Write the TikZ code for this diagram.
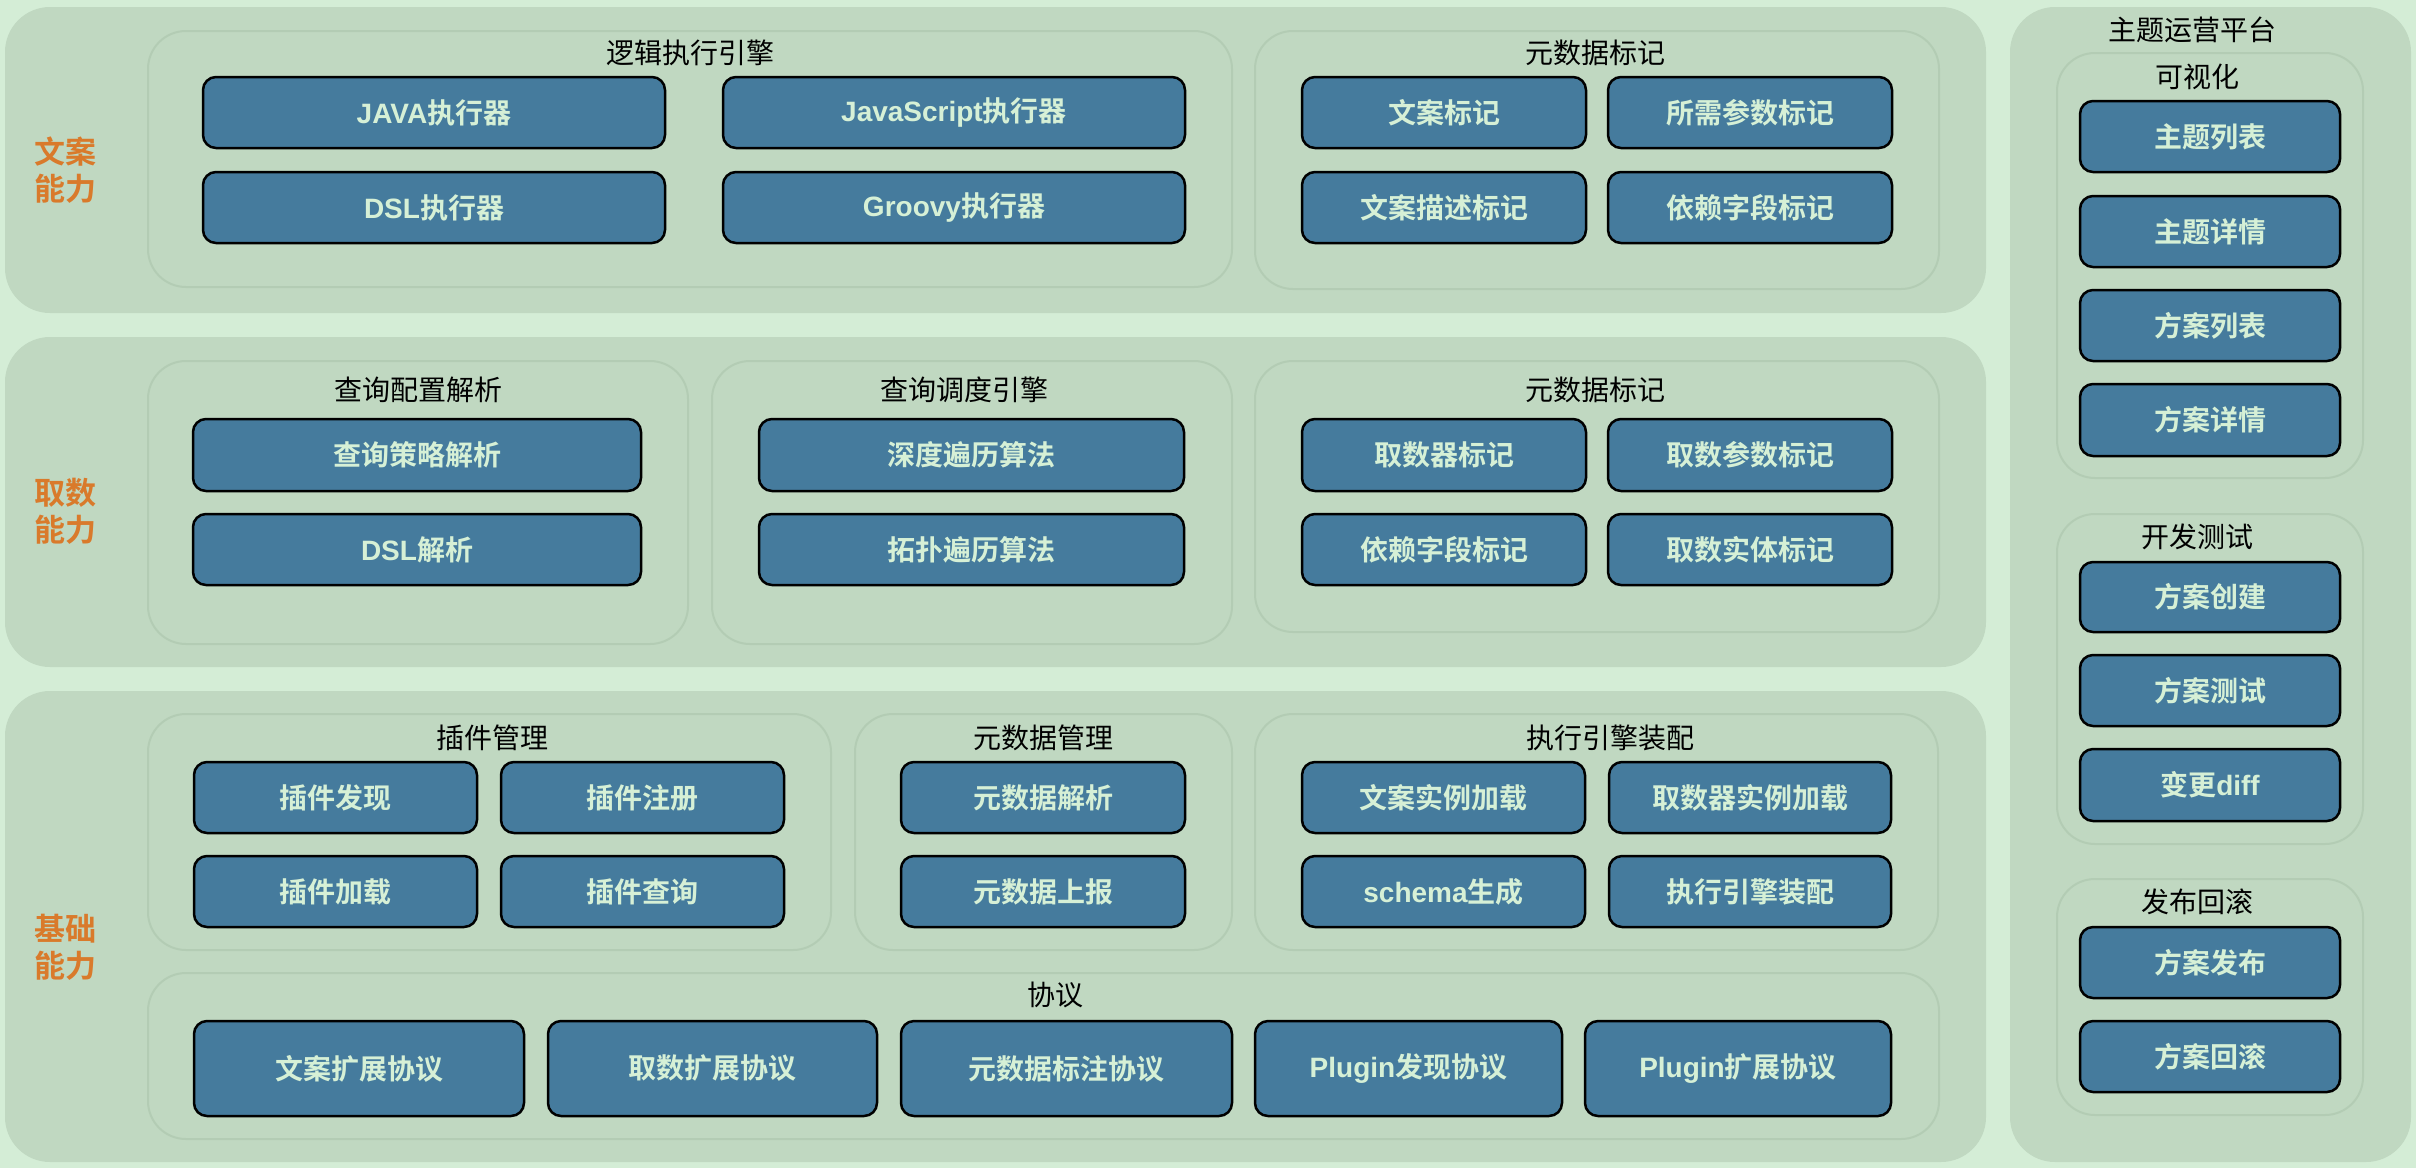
\documentclass[tikz,border=0pt]{standalone}
\usepackage{fontspec}
\setmainfont{Noto Sans CJK SC}[BoldFont=* Bold]
\newfontfamily\latinfont{Liberation Sans}
\definecolor{bgc}{HTML}{D4EDD6}
\definecolor{panelc}{HTML}{C0D8C1}
\definecolor{grpline}{HTML}{B3CCB4}
\definecolor{boxc}{HTML}{457B9D}
\definecolor{boxtxt}{HTML}{D6F0D6}
\definecolor{orangec}{HTML}{D97A2B}
\tikzset{
  panel/.style={fill=panelc, draw=none, rounded corners=45pt, inner sep=0pt},
  grp/.style={fill=panelc, draw=grpline, line width=2pt, rounded corners=38pt, inner sep=0pt},
  bluebox/.style={fill=boxc, draw=black, line width=2.5pt, rounded corners=13pt, inner sep=0pt,
    text=boxtxt, font=\fontsize{28}{32}\selectfont\bfseries},
  grptitle/.style={text=black, font=\fontsize{28}{32}\selectfont, inner sep=0pt},
  sidelabel/.style={text=orangec, align=center, font=\fontsize{31}{37}\selectfont\bfseries, inner sep=0pt},
}
\newcommand\shp[6]{%
  \pgfmathsetmacro\qcx{(#3+#5)/2}\pgfmathsetmacro\qcy{(#4+#6)/2}%
  \pgfmathsetmacro\qbw{#5-#3}\pgfmathsetmacro\qbh{#6-#4}%
  \node[#1, minimum width=\qbw pt, minimum height=\qbh pt] (#2) at (\qcx,\qcy) {};}
\newcommand\blk[6]{%
  \pgfmathsetmacro\qcx{(#2+#4)/2}\pgfmathsetmacro\qcy{(#3+#5)/2}%
  \pgfmathsetmacro\qbw{#4-#2}\pgfmathsetmacro\qbh{#5-#3}%
  \node[bluebox, minimum width=\qbw pt, minimum height=\qbh pt] (#1) at (\qcx,\qcy) {#6};}
\newcommand\en[1]{{\latinfont\bfseries #1}}
\begin{document}
\begin{tikzpicture}[x=1pt,y=-1pt]
\fill[bgc] (0,0) rectangle (2416,1168);
\useasboundingbox (0,0) rectangle (2416,1168);
% panels
\shp{panel}{p1}{5}{7}{1986}{313}
\shp{panel}{p2}{5}{337}{1986}{667}
\shp{panel}{p3}{5}{691}{1986}{1162}
\shp{panel}{pr}{2010}{7}{2411}{1162}
% side labels
\node[sidelabel] (l1) at (65,170) {文案\\能力};
\node[sidelabel] (l2) at (65,511) {取数\\能力};
\node[sidelabel] (l3) at (65,947) {基础\\能力};
\node[grptitle] (prt) at (2192,30) {主题运营平台};
% groups row 1
\shp{grp}{g1a}{148}{31}{1232}{287}
\node[grptitle] (g1at) at (690,53) {逻辑执行引擎};
\shp{grp}{g1b}{1255}{31}{1939}{289}
\node[grptitle] (g1bt) at (1595,53) {元数据标记};
% groups row 2
\shp{grp}{g2a}{148}{361}{688}{644}
\node[grptitle] (g2at) at (418,390) {查询配置解析};
\shp{grp}{g2b}{712}{361}{1232}{644}
\node[grptitle] (g2bt) at (964,390) {查询调度引擎};
\shp{grp}{g2c}{1255}{361}{1939}{632}
\node[grptitle] (g2ct) at (1595,390) {元数据标记};
% groups row 3
\shp{grp}{g3a}{148}{714}{831}{950}
\node[grptitle] (g3at) at (492,738) {插件管理};
\shp{grp}{g3b}{855}{714}{1232}{950}
\node[grptitle] (g3bt) at (1043,738) {元数据管理};
\shp{grp}{g3c}{1255}{714}{1938}{950}
\node[grptitle] (g3ct) at (1610,738) {执行引擎装配};
\shp{grp}{g3d}{148}{973}{1939}{1139}
\node[grptitle] (g3dt) at (1055,995) {协议};
% right groups
\shp{grp}{gra}{2057}{53}{2363}{478}
\node[grptitle] (grat) at (2197,77) {可视化};
\shp{grp}{grb}{2057}{514}{2363}{844}
\node[grptitle] (grbt) at (2197,537) {开发测试};
\shp{grp}{grc}{2057}{879}{2363}{1115}
\node[grptitle] (grct) at (2197,902) {发布回滚};
% row 1 boxes
\blk{b11}{203}{77}{665}{148}{\en{JAVA}执行器}
\blk{b12}{723}{77}{1185}{148}{\en{JavaScript}执行器}
\blk{b13}{203}{172}{665}{243}{\en{DSL}执行器}
\blk{b14}{723}{172}{1185}{243}{\en{Groovy}执行器}
\blk{b15}{1302}{77}{1586}{148}{文案标记}
\blk{b16}{1608}{77}{1892}{148}{所需参数标记}
\blk{b17}{1302}{172}{1586}{243}{文案描述标记}
\blk{b18}{1608}{172}{1892}{243}{依赖字段标记}
% row 2 boxes
\blk{b21}{193}{419}{641}{491}{查询策略解析}
\blk{b22}{193}{514}{641}{585}{\en{DSL}解析}
\blk{b23}{759}{419}{1184}{491}{深度遍历算法}
\blk{b24}{759}{514}{1184}{585}{拓扑遍历算法}
\blk{b25}{1302}{419}{1586}{491}{取数器标记}
\blk{b26}{1608}{419}{1892}{491}{取数参数标记}
\blk{b27}{1302}{514}{1586}{585}{依赖字段标记}
\blk{b28}{1608}{514}{1892}{585}{取数实体标记}
% row 3 boxes
\blk{b31}{194}{762}{477}{833}{插件发现}
\blk{b32}{501}{762}{784}{833}{插件注册}
\blk{b33}{194}{856}{477}{927}{插件加载}
\blk{b34}{501}{856}{784}{927}{插件查询}
\blk{b35}{901}{762}{1185}{833}{元数据解析}
\blk{b36}{901}{856}{1185}{927}{元数据上报}
\blk{b37}{1302}{762}{1585}{833}{文案实例加载}
\blk{b38}{1609}{762}{1891}{833}{取数器实例加载}
\blk{b39}{1302}{856}{1585}{927}{\en{schema}生成}
\blk{b310}{1609}{856}{1891}{927}{执行引擎装配}
% protocol boxes
\blk{b41}{194}{1021}{524}{1116}{文案扩展协议}
\blk{b42}{548}{1021}{877}{1116}{取数扩展协议}
\blk{b43}{901}{1021}{1232}{1116}{元数据标注协议}
\blk{b44}{1255}{1021}{1562}{1116}{\en{Plugin}发现协议}
\blk{b45}{1585}{1021}{1891}{1116}{\en{Plugin}扩展协议}
% right boxes
\blk{r1}{2080}{101}{2340}{172}{主题列表}
\blk{r2}{2080}{196}{2340}{267}{主题详情}
\blk{r3}{2080}{290}{2340}{361}{方案列表}
\blk{r4}{2080}{384}{2340}{456}{方案详情}
\blk{r5}{2080}{562}{2340}{632}{方案创建}
\blk{r6}{2080}{655}{2340}{726}{方案测试}
\blk{r7}{2080}{749}{2340}{821}{变更\en{diff}}
\blk{r8}{2080}{927}{2340}{998}{方案发布}
\blk{r9}{2080}{1021}{2340}{1092}{方案回滚}
\end{tikzpicture}
\end{document}
